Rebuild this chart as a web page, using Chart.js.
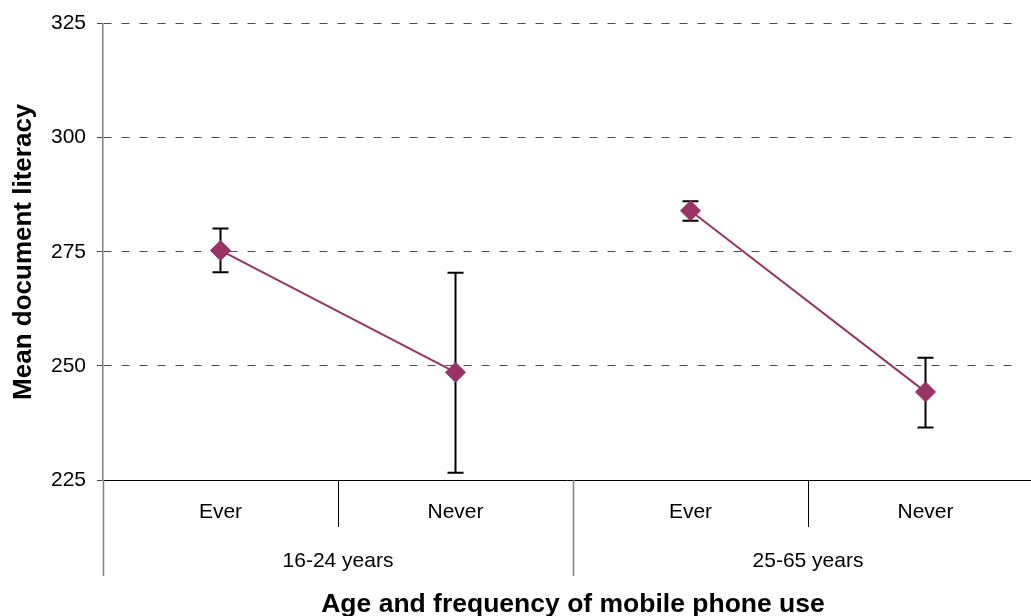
<!DOCTYPE html>
<html>
<head>
<meta charset="utf-8">
<script src="https://cdn.jsdelivr.net/npm/chart.js@4/dist/chart.umd.min.js"></script>
<style>
  html, body { margin: 0; padding: 0; overflow: hidden; background: #fff; }
  canvas { display: block; }
</style>
</head>
<body>
<canvas id="chart" width="1031" height="616"></canvas>
<script>
// values
const categories = ["Ever", "Never", "Ever", "Never"];
const groups = ["16-24 years", "25-65 years"];
const means = [275.3, 248.6, 284.0, 244.3];
const lower = [270.5, 226.6, 281.8, 236.5];
const upper = [280.1, 270.4, 286.1, 251.8];
const yTicks = [225, 250, 275, 300, 325];

const plum = "#993366";
const fontFamily = "'Liberation Sans', Arial, sans-serif";

// error bars, category separators and the group row of the x axis
const extras = {
  id: "extras",
  afterLayout(chart) {
    // the original plot runs a little past the right edge of the picture
    const x = chart.scales.x;
    x.right = chart.width + 12;
    x.width = x.right - x.left;
    x.configure();
  },
  beforeDatasetsDraw(chart) {
    const { ctx, scales: { x, y } } = chart;
    ctx.save();
    ctx.strokeStyle = "#000";
    ctx.lineWidth = 2;
    means.forEach((m, i) => {
      const px = x.getPixelForValue(i);
      const top = y.getPixelForValue(upper[i]);
      const bot = y.getPixelForValue(lower[i]);
      ctx.beginPath();
      ctx.moveTo(px, top);
      ctx.lineTo(px, bot);
      ctx.moveTo(px - 8, top);
      ctx.lineTo(px + 8, top);
      ctx.moveTo(px - 8, bot);
      ctx.lineTo(px + 8, bot);
      ctx.stroke();
    });
    ctx.restore();
  },
  afterDraw(chart) {
    const { ctx, chartArea, scales: { x } } = chart;
    const half = (x.getPixelForTick(1) - x.getPixelForTick(0)) / 2;
    const base = chartArea.bottom;
    ctx.save();
    for (let i = 0; i <= categories.length; i++) {
      const edge = i < categories.length ? x.getPixelForTick(i) - half : x.getPixelForTick(i - 1) + half;
      const long = i % 2 === 0;
      ctx.beginPath();
      ctx.strokeStyle = long ? "#808080" : "#000";
      ctx.lineWidth = long ? 1.5 : 1;
      ctx.moveTo(Math.round(edge) + 0.5, base);
      ctx.lineTo(Math.round(edge) + 0.5, base + (long ? 96 : 47));
      ctx.stroke();
    }
    ctx.fillStyle = "#000";
    ctx.font = "21px " + fontFamily;
    ctx.textAlign = "center";
    ctx.textBaseline = "middle";
    groups.forEach((g, k) => {
      const cx = (x.getPixelForTick(2 * k) + x.getPixelForTick(2 * k + 1)) / 2;
      ctx.fillText(g, cx, base + 81);
    });
    ctx.restore();
  }
};

new Chart(document.getElementById("chart"), {
  type: "line",
  data: {
    labels: categories,
    datasets: [{
      data: means,
      borderColor: plum,
      borderWidth: 2,
      pointStyle: "rectRot",
      pointRadius: 10,
      pointBackgroundColor: plum,
      pointBorderColor: plum,
      pointBorderWidth: 1,
      clip: false,
      segment: {
        // no line between the two age groups
        borderColor: c => c.p0DataIndex === 1 ? "rgba(0,0,0,0)" : plum
      }
    }]
  },
  options: {
    responsive: false,
    animation: false,
    layout: { padding: { top: 22.5, left: 0, right: 0, bottom: 0 } },
    plugins: {
      legend: { display: false },
      tooltip: { enabled: false }
    },
    scales: {
      x: {
        offset: true,
        grid: { display: false, drawTicks: false },
        border: { color: "#000", width: 1 },
        ticks: {
          color: "#000",
          padding: 20,
          maxRotation: 0,
          autoSkip: false,
          font: { family: fontFamily, size: 21 }
        },
        title: {
          display: true,
          text: "Age and frequency of mobile phone use",
          color: "#000",
          padding: 0,
          font: { family: fontFamily, size: 26.5, weight: "bold", lineHeight: "22px" }
        },
        afterFit(s) { s.height = 136; }
      },
      y: {
        min: 225,
        max: 325,
        afterBuildTicks(s) { s.ticks = yTicks.map(v => ({ value: v })); },
        grid: {
          color: c => c.tick && c.tick.value === 225 ? "rgba(0,0,0,0)" : "#4d4d4d",
          lineWidth: 1,
          tickLength: 6,
          tickColor: "#444",
          tickBorderDash: []
        },
        border: { color: "#808080", width: 1.5, dash: [8, 10] },
        ticks: {
          color: "#000",
          padding: 11,
          font: { family: fontFamily, size: 21 }
        },
        title: {
          display: true,
          text: "Mean document literacy",
          color: "#000",
          padding: { top: 12, bottom: 0 },
          font: { family: fontFamily, size: 26, weight: "bold", lineHeight: "23px" }
        },
        afterFit(s) { s.width = 103; }
      }
    }
  },
  plugins: [extras]
});
</script>
</body>
</html>
